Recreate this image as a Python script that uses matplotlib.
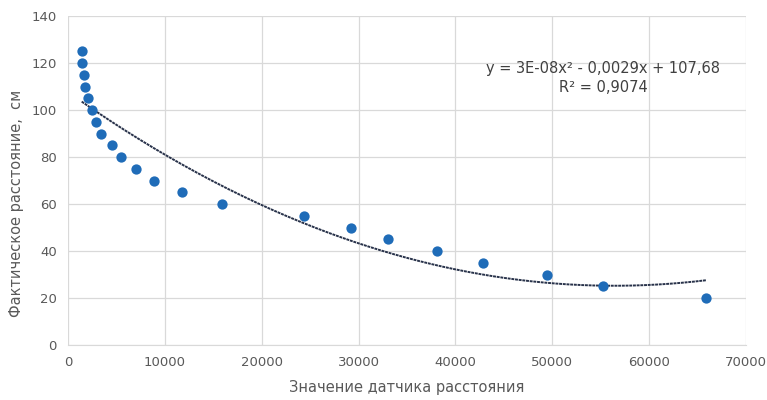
import numpy as np
import matplotlib.pyplot as plt

# sensor reading vs. actual distance (cm)
sensor = [1475, 1410, 1650, 1720, 2090, 2440, 2920, 3430, 4500, 5500, 6980,
          8870, 11720, 15900, 24400, 29200, 33000, 38100, 42800, 49400,
          55200, 65900]
distance = [125, 120, 115, 110, 105, 100, 95, 90, 85, 80, 75, 70, 65, 60,
            55, 50, 45, 40, 35, 30, 25, 20]
eq_text = "y = 3E-08x\u00b2 - 0,0029x + 107,68"
r2_text = "R\u00b2 = 0,9074"

plt.rcParams['font.family'] = ['Liberation Sans Narrow', 'DejaVu Sans']

fig = plt.figure(figsize=(7.67, 4.0), dpi=100)
ax = fig.add_axes([0.0887, 0.1375, 0.884, 0.8225])

ax.scatter(sensor, distance, s=55, color="#1f6cb8", zorder=3, linewidths=0)

# second-order polynomial trend line, as Excel draws it
coef = np.polyfit(sensor, distance, 2)
xs = np.linspace(min(sensor), max(sensor), 300)
ax.plot(xs, np.polyval(coef, xs), color="#28324a", lw=1.4,
        linestyle=(0, (1.5, 0.4)), zorder=2)

# equation and R² in pixel coords (measured from the top-left)
ax.text(603, 400 - 68, eq_text, transform=None, ha="center", va="center",
        fontsize=10.5, color="#404040")
ax.text(603, 400 - 87, r2_text, transform=None, ha="center", va="center",
        fontsize=10.5, color="#404040")

ax.set_xlim(0, 70000)
ax.set_ylim(0, 140)
ax.set_xticks(range(0, 70001, 10000))
ax.set_yticks(range(0, 141, 20))
ax.grid(True, color="#d9d9d9", lw=0.9)
ax.set_axisbelow(True)
for s in ["top", "right", "left"]:
    ax.spines[s].set_visible(False)
ax.spines["bottom"].set_color("#d9d9d9")
ax.tick_params(length=0, labelsize=9.5, colors="#595959", pad=8)

ax.set_xlabel("Значение датчика расстояния", fontsize=10.5, color="#595959",
              labelpad=8)
ax.set_ylabel("Фактическое расстояние,  см", fontsize=10.5, color="#595959",
              labelpad=3)
ax.yaxis.set_label_coords(-0.065, 0.43)

fig.savefig("out.png", dpi=100)
